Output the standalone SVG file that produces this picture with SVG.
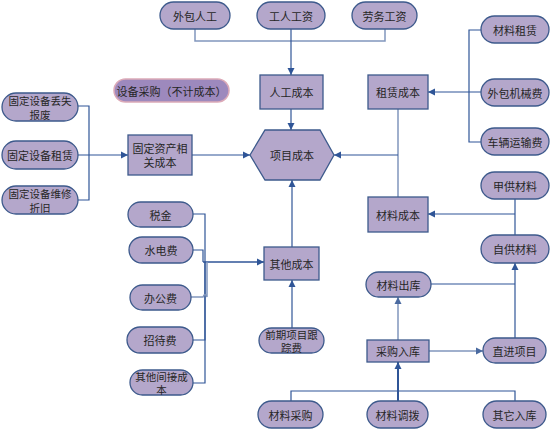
<svg xmlns="http://www.w3.org/2000/svg" width="553" height="431" viewBox="0 0 553 431">
<defs>
<marker id="arr" markerUnits="userSpaceOnUse" markerWidth="8" markerHeight="8" refX="7" refY="4" orient="auto">
<path d="M0,0.5 L7,4 L0,7.5 z" fill="#2f5597"/>
</marker>
<marker id="arrL" markerUnits="userSpaceOnUse" markerWidth="8" markerHeight="8" refX="7" refY="4" orient="auto">
<path d="M0,0.5 L7,4 L0,7.5 z" fill="#4a6aa0"/>
</marker>
</defs>
<style>
.n{fill:#b4a7cb;stroke:#3d5a8c;stroke-width:1.3}
.sp{fill:#9d89bd;stroke:#dcaab8;stroke-width:1.5}
text{font-family:"Noto Sans CJK SC","Noto Sans",sans-serif;font-size:11px;fill:#262626;text-anchor:middle;dominant-baseline:central}
text.t2{font-size:10.5px}
.c{fill:none;stroke:#2f5597;stroke-width:1.2}
.l{fill:none;stroke:#8196bd;stroke-width:1.5}
.a{marker-end:url(#arr)}
.al{marker-end:url(#arrL)}
</style>
<rect width="553" height="431" fill="#ffffff"/>
<g id="connectors">
<path class="l" d="M195,29 V41 H385 V29"/>
<path class="c a" d="M291,29 V75"/>
<path class="c a" d="M291,109 V130"/>
<path class="c" d="M78,106 H89 V200 H78"/>
<path class="c a" d="M78,155 H128"/>
<path class="c a" d="M192,155 H250"/>
<path class="c" d="M481,30 H469 V142 H481"/>
<path class="c a" d="M481,92 H428"/>
<path class="l" d="M398,109 V197"/>
<path class="c a" d="M398,155 H334"/>
<path class="c" d="M515,199 V235"/>
<path class="c a" d="M515,214 H428"/>
<path class="c" d="M431,284 H515"/>
<path class="c a" d="M515,338 V263"/>
<path class="l al" d="M398,340 V297"/>
<path class="l al" d="M429,351 H483"/>
<path class="c" d="M291,401 V391 H515 V401"/>
<path class="c a" style="stroke-width:2" d="M398,401 V362"/>
<path class="c a" d="M292,247 V180"/>
<path class="c a" d="M292,328 V280"/>
<path class="c" d="M193,214 H205 V262"/>
<path class="c" d="M193,250 H203 V262"/>
<path class="c a" style="stroke-width:1.6" d="M203,262 H264"/>
<path class="c" d="M193,340 H205 V262"/>
<path class="c" d="M193,383 H205 V262"/>
<path class="l" d="M191,297 H203 Q205,292 207,297 V262"/>
</g>
<g id="n-waibaorengong"><rect class="n" x="160" y="2" width="70" height="27" rx="13.5"/><text x="195" y="15.5">外包人工</text></g>
<g id="n-gongrengongzi"><rect class="n" x="257" y="2" width="68" height="27" rx="13.5"/><text x="291" y="15.5">工人工资</text></g>
<g id="n-laowugongzi"><rect class="n" x="352" y="2" width="65" height="27" rx="13.5"/><text x="384.5" y="15.5">劳务工资</text></g>
<g id="n-rengongchengben"><rect class="n" x="260" y="75" width="63" height="34"/><text x="291.5" y="92">人工成本</text></g>
<g id="n-shebeicaigou"><rect class="sp" x="114" y="79" width="115" height="23" rx="11.5"/><text x="171.5" y="90.5">设备采购（不计成本）</text></g>
<g id="n-diushi"><rect class="n" x="2" y="93" width="76" height="28" rx="14"/><text class="t2" x="40" y="100.5">固定设备丢失<tspan x="40" dy="13">报废</tspan></text></g>
<g id="n-zulin"><rect class="n" x="2" y="141" width="76" height="28" rx="14"/><text x="40" y="155">固定设备租赁</text></g>
<g id="n-weixiu"><rect class="n" x="2" y="186" width="76" height="28" rx="14"/><text class="t2" x="40" y="193.5">固定设备维修<tspan x="40" dy="13">折旧</tspan></text></g>
<g id="n-gudingzichan"><rect class="n" x="128" y="135" width="64" height="40"/><text x="160" y="148">固定资产相<tspan x="160" dy="14">关成本</tspan></text></g>
<g id="n-xiangmuchengben"><polygon class="n" points="250,155 265,130 320,130 334,155 320,180 265,180"/><text x="292" y="155">项目成本</text></g>
<g id="n-zulinchengben"><rect class="n" x="368" y="75" width="60" height="34"/><text x="398" y="92">租赁成本</text></g>
<g id="n-cailiaozulin"><rect class="n" x="481" y="16" width="68" height="27" rx="13.5"/><text x="515" y="29.5">材料租赁</text></g>
<g id="n-waibaojixie"><rect class="n" x="481" y="79" width="68" height="27" rx="13.5"/><text x="515" y="92.5">外包机械费</text></g>
<g id="n-cheliang"><rect class="n" x="481" y="128" width="68" height="27" rx="13.5"/><text x="515" y="141.5">车辆运输费</text></g>
<g id="n-jiagong"><rect class="n" x="481" y="172" width="68" height="27" rx="13.5"/><text x="515" y="185.5">甲供材料</text></g>
<g id="n-cailiaochengben"><rect class="n" x="368" y="197" width="60" height="35"/><text x="398" y="214.5">材料成本</text></g>
<g id="n-zigong"><rect class="n" x="481" y="235" width="68" height="28" rx="14"/><text x="515" y="249">自供材料</text></g>
<g id="n-cailiaochuku"><rect class="n" x="366" y="272" width="65" height="25" rx="12.5"/><text x="398.5" y="284.5">材料出库</text></g>
<g id="n-caigouruku"><rect class="n" x="367" y="340" width="62" height="22"/><text x="398" y="351">采购入库</text></g>
<g id="n-zhijin"><rect class="n" x="483" y="338" width="63" height="25" rx="12.5"/><text x="514.5" y="350.5">直进项目</text></g>
<g id="n-cailiaocaigou"><rect class="n" x="258" y="401" width="65" height="27" rx="13.5"/><text x="290.5" y="414.5">材料采购</text></g>
<g id="n-cailiaodiaobo"><rect class="n" x="367" y="401" width="61" height="27" rx="13.5"/><text x="397.5" y="414.5">材料调拨</text></g>
<g id="n-qitaruku"><rect class="n" x="483" y="401" width="63" height="27" rx="13.5"/><text x="514.5" y="414.5">其它入库</text></g>
<g id="n-qitachengben"><rect class="n" x="264" y="247" width="55" height="33"/><text x="291.5" y="263.5">其他成本</text></g>
<g id="n-qianqi"><rect class="n" x="259" y="328" width="65" height="25" rx="12.5"/><text class="t2" x="291.5" y="334">前期项目跟<tspan x="291.5" dy="13">踪费</tspan></text></g>
<g id="n-shuijin"><rect class="n" x="128" y="202" width="65" height="25" rx="12.5"/><text x="160.5" y="214.5">税金</text></g>
<g id="n-shuidian"><rect class="n" x="129" y="237" width="64" height="26" rx="13"/><text x="161" y="250">水电费</text></g>
<g id="n-bangong"><rect class="n" x="130" y="285" width="61" height="25" rx="12.5"/><text x="160.5" y="297.5">办公费</text></g>
<g id="n-zhaodai"><rect class="n" x="127" y="327" width="66" height="26" rx="13"/><text x="160" y="340">招待费</text></g>
<g id="n-qitajianjie"><rect class="n" x="130" y="370" width="63" height="25" rx="12.5"/><text class="t2" x="161.5" y="376">其他间接成<tspan x="161.5" dy="13">本</tspan></text></g>
</svg>
